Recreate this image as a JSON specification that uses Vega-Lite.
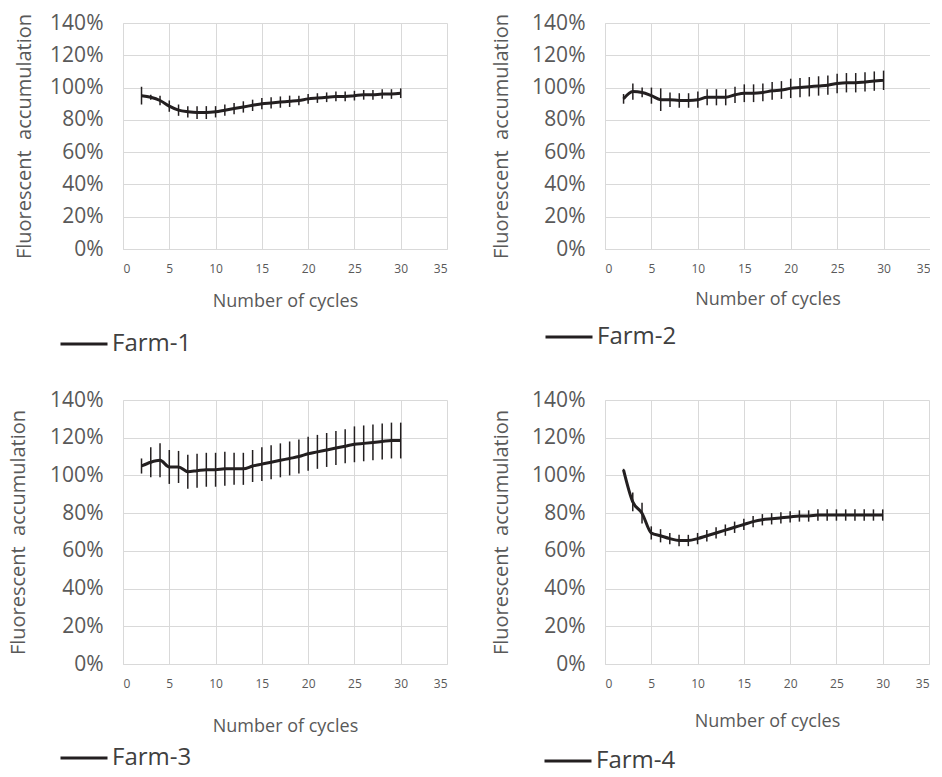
{
  "$schema": "https://vega.github.io/schema/vega-lite/v6.json",
  "padding": {"left": 8, "top": 12, "right": 0, "bottom": 20},
  "background": "white",
  "datasets": {
    "farm1": [
      {"farm": "Farm-1", "cycle": 2, "mean": 0.95, "err": 0.055},
      {"farm": "Farm-1", "cycle": 3, "mean": 0.94, "err": 0.015},
      {"farm": "Farm-1", "cycle": 4, "mean": 0.92, "err": 0.03},
      {"farm": "Farm-1", "cycle": 5, "mean": 0.885, "err": 0.035},
      {"farm": "Farm-1", "cycle": 6, "mean": 0.86, "err": 0.035},
      {"farm": "Farm-1", "cycle": 7, "mean": 0.85, "err": 0.035},
      {"farm": "Farm-1", "cycle": 8, "mean": 0.845, "err": 0.04},
      {"farm": "Farm-1", "cycle": 9, "mean": 0.845, "err": 0.04},
      {"farm": "Farm-1", "cycle": 10, "mean": 0.85, "err": 0.035},
      {"farm": "Farm-1", "cycle": 11, "mean": 0.86, "err": 0.035},
      {"farm": "Farm-1", "cycle": 12, "mean": 0.87, "err": 0.035},
      {"farm": "Farm-1", "cycle": 13, "mean": 0.88, "err": 0.035},
      {"farm": "Farm-1", "cycle": 14, "mean": 0.89, "err": 0.035},
      {"farm": "Farm-1", "cycle": 15, "mean": 0.9, "err": 0.035},
      {"farm": "Farm-1", "cycle": 16, "mean": 0.905, "err": 0.035},
      {"farm": "Farm-1", "cycle": 17, "mean": 0.91, "err": 0.035},
      {"farm": "Farm-1", "cycle": 18, "mean": 0.915, "err": 0.035},
      {"farm": "Farm-1", "cycle": 19, "mean": 0.92, "err": 0.03},
      {"farm": "Farm-1", "cycle": 20, "mean": 0.93, "err": 0.03},
      {"farm": "Farm-1", "cycle": 21, "mean": 0.935, "err": 0.03},
      {"farm": "Farm-1", "cycle": 22, "mean": 0.94, "err": 0.03},
      {"farm": "Farm-1", "cycle": 23, "mean": 0.945, "err": 0.03},
      {"farm": "Farm-1", "cycle": 24, "mean": 0.945, "err": 0.03},
      {"farm": "Farm-1", "cycle": 25, "mean": 0.95, "err": 0.03},
      {"farm": "Farm-1", "cycle": 26, "mean": 0.955, "err": 0.03},
      {"farm": "Farm-1", "cycle": 27, "mean": 0.955, "err": 0.03},
      {"farm": "Farm-1", "cycle": 28, "mean": 0.96, "err": 0.03},
      {"farm": "Farm-1", "cycle": 29, "mean": 0.96, "err": 0.03},
      {"farm": "Farm-1", "cycle": 30, "mean": 0.965, "err": 0.03}
    ],
    "farm2": [
      {"farm": "Farm-2", "cycle": 2, "mean": 0.93, "err": 0.03},
      {"farm": "Farm-2", "cycle": 3, "mean": 0.975, "err": 0.05},
      {"farm": "Farm-2", "cycle": 4, "mean": 0.97, "err": 0.03},
      {"farm": "Farm-2", "cycle": 5, "mean": 0.95, "err": 0.05},
      {"farm": "Farm-2", "cycle": 6, "mean": 0.925, "err": 0.07},
      {"farm": "Farm-2", "cycle": 7, "mean": 0.925, "err": 0.045},
      {"farm": "Farm-2", "cycle": 8, "mean": 0.92, "err": 0.045},
      {"farm": "Farm-2", "cycle": 9, "mean": 0.92, "err": 0.045},
      {"farm": "Farm-2", "cycle": 10, "mean": 0.925, "err": 0.05},
      {"farm": "Farm-2", "cycle": 11, "mean": 0.94, "err": 0.05},
      {"farm": "Farm-2", "cycle": 12, "mean": 0.94, "err": 0.05},
      {"farm": "Farm-2", "cycle": 13, "mean": 0.94, "err": 0.05},
      {"farm": "Farm-2", "cycle": 14, "mean": 0.955, "err": 0.05},
      {"farm": "Farm-2", "cycle": 15, "mean": 0.965, "err": 0.055},
      {"farm": "Farm-2", "cycle": 16, "mean": 0.965, "err": 0.055},
      {"farm": "Farm-2", "cycle": 17, "mean": 0.97, "err": 0.055},
      {"farm": "Farm-2", "cycle": 18, "mean": 0.98, "err": 0.055},
      {"farm": "Farm-2", "cycle": 19, "mean": 0.985, "err": 0.055},
      {"farm": "Farm-2", "cycle": 20, "mean": 0.995, "err": 0.06},
      {"farm": "Farm-2", "cycle": 21, "mean": 1.0, "err": 0.06},
      {"farm": "Farm-2", "cycle": 22, "mean": 1.005, "err": 0.06},
      {"farm": "Farm-2", "cycle": 23, "mean": 1.01, "err": 0.06},
      {"farm": "Farm-2", "cycle": 24, "mean": 1.015, "err": 0.06},
      {"farm": "Farm-2", "cycle": 25, "mean": 1.025, "err": 0.06},
      {"farm": "Farm-2", "cycle": 26, "mean": 1.03, "err": 0.06},
      {"farm": "Farm-2", "cycle": 27, "mean": 1.03, "err": 0.06},
      {"farm": "Farm-2", "cycle": 28, "mean": 1.035, "err": 0.06},
      {"farm": "Farm-2", "cycle": 29, "mean": 1.04, "err": 0.06},
      {"farm": "Farm-2", "cycle": 30, "mean": 1.045, "err": 0.06}
    ],
    "farm3": [
      {"farm": "Farm-3", "cycle": 2, "mean": 1.05, "err": 0.04},
      {"farm": "Farm-3", "cycle": 3, "mean": 1.07, "err": 0.08},
      {"farm": "Farm-3", "cycle": 4, "mean": 1.08, "err": 0.09},
      {"farm": "Farm-3", "cycle": 5, "mean": 1.045, "err": 0.09},
      {"farm": "Farm-3", "cycle": 6, "mean": 1.045, "err": 0.085},
      {"farm": "Farm-3", "cycle": 7, "mean": 1.02, "err": 0.09},
      {"farm": "Farm-3", "cycle": 8, "mean": 1.025, "err": 0.09},
      {"farm": "Farm-3", "cycle": 9, "mean": 1.03, "err": 0.09},
      {"farm": "Farm-3", "cycle": 10, "mean": 1.03, "err": 0.09},
      {"farm": "Farm-3", "cycle": 11, "mean": 1.035, "err": 0.09},
      {"farm": "Farm-3", "cycle": 12, "mean": 1.035, "err": 0.085},
      {"farm": "Farm-3", "cycle": 13, "mean": 1.035, "err": 0.085},
      {"farm": "Farm-3", "cycle": 14, "mean": 1.05, "err": 0.085},
      {"farm": "Farm-3", "cycle": 15, "mean": 1.06, "err": 0.09},
      {"farm": "Farm-3", "cycle": 16, "mean": 1.07, "err": 0.09},
      {"farm": "Farm-3", "cycle": 17, "mean": 1.08, "err": 0.09},
      {"farm": "Farm-3", "cycle": 18, "mean": 1.09, "err": 0.09},
      {"farm": "Farm-3", "cycle": 19, "mean": 1.1, "err": 0.09},
      {"farm": "Farm-3", "cycle": 20, "mean": 1.115, "err": 0.09},
      {"farm": "Farm-3", "cycle": 21, "mean": 1.125, "err": 0.09},
      {"farm": "Farm-3", "cycle": 22, "mean": 1.135, "err": 0.09},
      {"farm": "Farm-3", "cycle": 23, "mean": 1.145, "err": 0.09},
      {"farm": "Farm-3", "cycle": 24, "mean": 1.155, "err": 0.09},
      {"farm": "Farm-3", "cycle": 25, "mean": 1.165, "err": 0.095},
      {"farm": "Farm-3", "cycle": 26, "mean": 1.17, "err": 0.095},
      {"farm": "Farm-3", "cycle": 27, "mean": 1.175, "err": 0.095},
      {"farm": "Farm-3", "cycle": 28, "mean": 1.18, "err": 0.095},
      {"farm": "Farm-3", "cycle": 29, "mean": 1.185, "err": 0.095},
      {"farm": "Farm-3", "cycle": 30, "mean": 1.185, "err": 0.095}
    ],
    "farm4": [
      {"farm": "Farm-4", "cycle": 2, "mean": 1.03, "err": 0.005},
      {"farm": "Farm-4", "cycle": 3, "mean": 0.86, "err": 0.05},
      {"farm": "Farm-4", "cycle": 4, "mean": 0.8, "err": 0.055},
      {"farm": "Farm-4", "cycle": 5, "mean": 0.695, "err": 0.035},
      {"farm": "Farm-4", "cycle": 6, "mean": 0.68, "err": 0.035},
      {"farm": "Farm-4", "cycle": 7, "mean": 0.665, "err": 0.03},
      {"farm": "Farm-4", "cycle": 8, "mean": 0.655, "err": 0.03},
      {"farm": "Farm-4", "cycle": 9, "mean": 0.655, "err": 0.03},
      {"farm": "Farm-4", "cycle": 10, "mean": 0.665, "err": 0.03},
      {"farm": "Farm-4", "cycle": 11, "mean": 0.68, "err": 0.03},
      {"farm": "Farm-4", "cycle": 12, "mean": 0.695, "err": 0.03},
      {"farm": "Farm-4", "cycle": 13, "mean": 0.71, "err": 0.03},
      {"farm": "Farm-4", "cycle": 14, "mean": 0.725, "err": 0.03},
      {"farm": "Farm-4", "cycle": 15, "mean": 0.74, "err": 0.03},
      {"farm": "Farm-4", "cycle": 16, "mean": 0.755, "err": 0.03},
      {"farm": "Farm-4", "cycle": 17, "mean": 0.765, "err": 0.03},
      {"farm": "Farm-4", "cycle": 18, "mean": 0.77, "err": 0.03},
      {"farm": "Farm-4", "cycle": 19, "mean": 0.775, "err": 0.03},
      {"farm": "Farm-4", "cycle": 20, "mean": 0.78, "err": 0.03},
      {"farm": "Farm-4", "cycle": 21, "mean": 0.785, "err": 0.03},
      {"farm": "Farm-4", "cycle": 22, "mean": 0.785, "err": 0.03},
      {"farm": "Farm-4", "cycle": 23, "mean": 0.79, "err": 0.03},
      {"farm": "Farm-4", "cycle": 24, "mean": 0.79, "err": 0.03},
      {"farm": "Farm-4", "cycle": 25, "mean": 0.79, "err": 0.03},
      {"farm": "Farm-4", "cycle": 26, "mean": 0.79, "err": 0.03},
      {"farm": "Farm-4", "cycle": 27, "mean": 0.79, "err": 0.03},
      {"farm": "Farm-4", "cycle": 28, "mean": 0.79, "err": 0.03},
      {"farm": "Farm-4", "cycle": 29, "mean": 0.79, "err": 0.03},
      {"farm": "Farm-4", "cycle": 30, "mean": 0.79, "err": 0.03}
    ]
  },
  "columns": 2,
  "bounds": "flush",
  "spacing": {"row": 151, "column": 158},
  "concat": [
    {
      "width": 324, "height": 226,
      "data": {"name": "farm1"},
      "encoding": {
        "x": {"field": "cycle", "type": "quantitative", "scale": {"domain": [0, 35], "nice": false},
              "axis": {"values": [0, 5, 10, 15, 20, 25, 30, 35], "title": "Number of cycles", "titlePadding": 18}},
        "y": {"field": "mean", "type": "quantitative", "scale": {"domain": [0, 1.4], "nice": false},
              "axis": {"values": [0, 0.2, 0.4, 0.6, 0.8, 1.0, 1.2, 1.4], "format": ".0%", "title": "Fluorescent\u00a0 accumulation", "titlePadding": 15}}
      },
      "layer": [
        {"mark": {"type": "errorbar", "color": "#231f20", "thickness": 1.5}, "encoding": {"yError": {"field": "err"}}},
        {"mark": {"type": "line", "interpolate": "monotone", "strokeWidth": 3},
         "encoding": {"color": {"field": "farm", "type": "nominal", "scale": {"range": ["#231f20"]},
           "legend": {"orient": "none", "legendX": -64, "legendY": 296}}}}
      ]
    },
    {
      "width": 325, "height": 226,
      "data": {"name": "farm2"},
      "encoding": {
        "x": {"field": "cycle", "type": "quantitative", "scale": {"domain": [0, 35], "nice": false},
              "axis": {"values": [0, 5, 10, 15, 20, 25, 30, 35], "title": "Number of cycles", "titlePadding": 16}},
        "y": {"field": "mean", "type": "quantitative", "scale": {"domain": [0, 1.4], "nice": false},
              "axis": {"values": [0, 0.2, 0.4, 0.6, 0.8, 1.0, 1.2, 1.4], "format": ".0%", "title": "Fluorescent\u00a0 accumulation", "titlePadding": 20}}
      },
      "layer": [
        {"mark": {"type": "errorbar", "color": "#231f20", "thickness": 1.5}, "encoding": {"yError": {"field": "err"}}},
        {"mark": {"type": "line", "interpolate": "monotone", "strokeWidth": 3},
         "encoding": {"color": {"field": "farm", "type": "nominal", "scale": {"range": ["#231f20"]},
           "legend": {"orient": "none", "legendX": -61, "legendY": 289}}}}
      ]
    },
    {
      "width": 324, "height": 264,
      "data": {"name": "farm3"},
      "encoding": {
        "x": {"field": "cycle", "type": "quantitative", "scale": {"domain": [0, 35], "nice": false},
              "axis": {"values": [0, 5, 10, 15, 20, 25, 30, 35], "title": "Number of cycles", "titlePadding": 28}},
        "y": {"field": "mean", "type": "quantitative", "scale": {"domain": [0, 1.4], "nice": false},
              "axis": {"values": [0, 0.2, 0.4, 0.6, 0.8, 1.0, 1.2, 1.4], "format": ".0%", "title": "Fluorescent\u00a0 accumulation", "titlePadding": 21}}
      },
      "layer": [
        {"mark": {"type": "errorbar", "color": "#231f20", "thickness": 1.5}, "encoding": {"yError": {"field": "err"}}},
        {"mark": {"type": "line", "interpolate": "monotone", "strokeWidth": 3},
         "encoding": {"color": {"field": "farm", "type": "nominal", "scale": {"range": ["#231f20"]},
           "legend": {"orient": "none", "legendX": -64, "legendY": 333}}}}
      ]
    },
    {
      "width": 324, "height": 264,
      "data": {"name": "farm4"},
      "encoding": {
        "x": {"field": "cycle", "type": "quantitative", "scale": {"domain": [0, 35], "nice": false},
              "axis": {"values": [0, 5, 10, 15, 20, 25, 30, 35], "title": "Number of cycles", "titlePadding": 23}},
        "y": {"field": "mean", "type": "quantitative", "scale": {"domain": [0, 1.4], "nice": false},
              "axis": {"values": [0, 0.2, 0.4, 0.6, 0.8, 1.0, 1.2, 1.4], "format": ".0%", "title": "Fluorescent\u00a0 accumulation", "titlePadding": 20}}
      },
      "layer": [
        {"mark": {"type": "errorbar", "color": "#231f20", "thickness": 1.5}, "encoding": {"yError": {"field": "err"}}},
        {"mark": {"type": "line", "interpolate": "monotone", "strokeWidth": 3},
         "encoding": {"color": {"field": "farm", "type": "nominal", "scale": {"range": ["#231f20"]},
           "legend": {"orient": "none", "legendX": -62, "legendY": 336}}}}
      ]
    }
  ],
  "resolve": {"scale": {"color": "independent"}, "legend": {"color": "independent"}},
  "config": {
    "view": {"stroke": null},
    "font": "Open Sans",
    "axis": {
      "gridColor": "#d9d9d9", "gridWidth": 1, "domainColor": "#d9d9d9", "domainWidth": 1,
      "ticks": false, "tickSize": 0,
      "labelFont": "Open Sans", "labelColor": "#595959",
      "titleFont": "Open Sans", "titleColor": "#595959", "titleFontWeight": "normal"
    },
    "axisX": {"labelFontSize": 12, "labelPadding": 14, "titleFontSize": 18},
    "axisY": {"labelFontSize": 21, "labelPadding": 20, "titleFontSize": 20},
    "legend": {
      "title": null, "symbolType": "stroke", "symbolSize": 2209, "symbolStrokeWidth": 3,
      "labelFontSize": 24, "labelFont": "Open Sans", "labelColor": "#404040", "labelOffset": 3, "padding": 0
    }
  }
}
